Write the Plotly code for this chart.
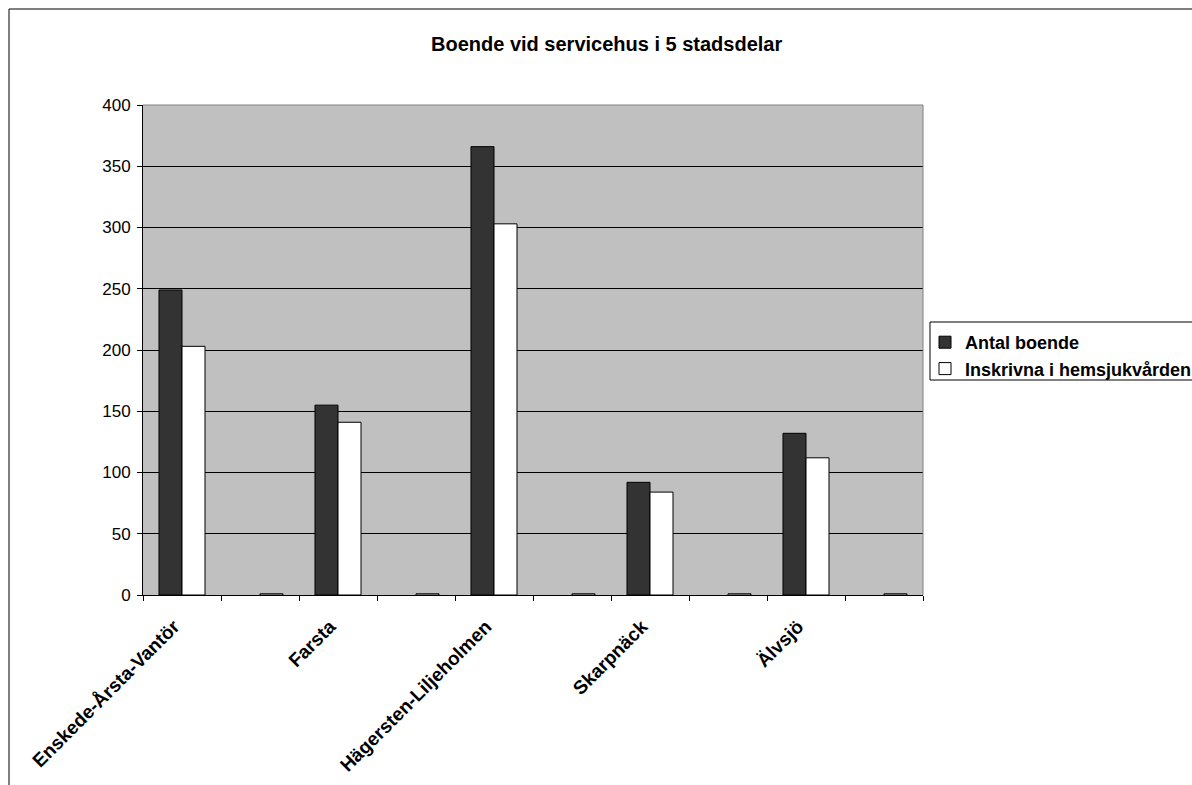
import plotly.graph_objects as go

# Stadsdelar; every second slot is an empty category between the districts
categories = ["Enskede-Årsta-Vantör", " ", "Farsta", "  ", "Hägersten-Liljeholmen",
              "   ", "Skarpnäck", "    ", "Älvsjö", "     "]
antal_boende = [249, None, 155, None, 366, None, 92, None, 132, None]
inskrivna = [203, 1, 141, 1, 303, 1, 84, 1, 112, 1]

y_ticks = [0, 50, 100, 150, 200, 250, 300, 350, 400]

FONT = "Liberation Sans, Arial, sans-serif"

# plot-area geometry in pixels
W, H = 1192, 785
L, R, T, B = 143, 923, 105, 595
pw, ph = R - L, B - T


def px(x):
    return (x - L) / pw


def py(y):
    return (B - y) / ph


fig = go.Figure()
fig.add_trace(go.Bar(
    x=categories, y=antal_boende, name="Antal boende",
    marker=dict(color="#333333", line=dict(color="black", width=1)),
))
fig.add_trace(go.Bar(
    x=categories, y=inskrivna, name="Inskrivna i hemsjukvården",
    marker=dict(color="white", line=dict(color="black", width=1)),
))

fig.update_layout(
    width=W, height=H,
    margin=dict(l=L, r=W - R, t=T, b=H - B, autoexpand=False),
    paper_bgcolor="white",
    plot_bgcolor="#C0C0C0",
    barmode="group", bargap=0.41, bargroupgap=0,
    font=dict(family=FONT, color="black"),
    title=dict(text="<b>Boende vid servicehus i 5 stadsdelar</b>",
               x=431 / W, xref="container", xanchor="left",
               y=1 - 44 / H, yref="container", yanchor="middle",
               font=dict(size=20, family=FONT, color="black")),
    showlegend=True,
    legend=dict(x=px(925), y=py(324), xanchor="left", yanchor="top",
                xref="paper", yref="paper",
                bgcolor="rgba(0,0,0,0)", borderwidth=0,
                font=dict(size=18, family=FONT, color="black", weight="bold"),
                itemwidth=30),
    shapes=[
        # outer chart frame
        dict(type="rect", xref="paper", yref="paper",
             x0=px(9), x1=px(1250), y0=py(900), y1=py(9),
             line=dict(color="black", width=1), fillcolor="rgba(0,0,0,0)", layer="below"),
        # legend frame
        dict(type="rect", xref="paper", yref="paper",
             x0=px(930), x1=px(1250), y0=py(380), y1=py(322),
             line=dict(color="black", width=1), fillcolor="white", layer="below"),
        # plot-area right and top edges
        dict(type="line", xref="paper", yref="paper", x0=1, x1=1, y0=0, y1=1,
             line=dict(color="#808080", width=1)),
        dict(type="line", xref="paper", yref="paper", x0=0, x1=1, y0=1, y1=1,
             line=dict(color="#808080", width=1)),
    ],
)

fig.update_xaxes(
    type="category", categoryorder="array", categoryarray=categories,
    tickson="boundaries", ticks="outside", ticklen=5, tickcolor="black",
    showline=True, linecolor="black", linewidth=1, showgrid=False,
    tickangle=-45, ticklabelstandoff=12, ticklabelshift=-8,
    tickfont=dict(size=19, family=FONT, color="black", weight="bold"),
)
fig.update_yaxes(
    range=[0, 400], tickvals=y_ticks, ticks="outside", ticklen=5, tickcolor="black",
    showline=True, linecolor="black", linewidth=1, ticklabelstandoff=3,
    showgrid=True, gridcolor="black", gridwidth=1, zeroline=False,
    tickfont=dict(size=17, family=FONT, color="black"),
)

fig.write_html("out.html")
